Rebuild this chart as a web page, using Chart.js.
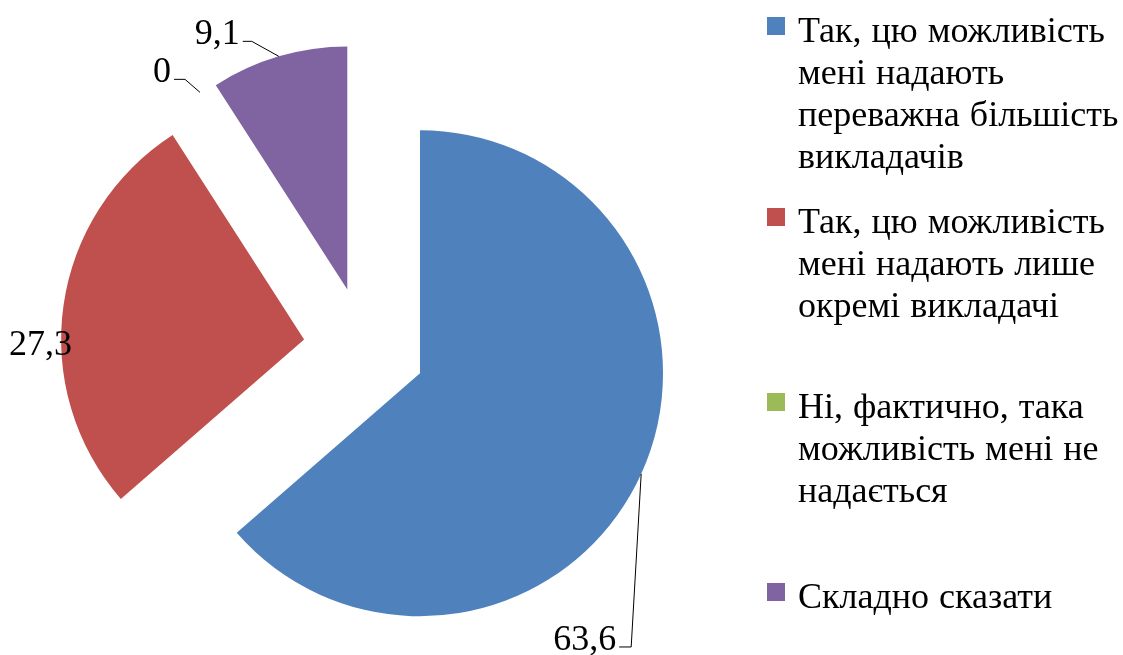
<!DOCTYPE html>
<html>
<head>
<meta charset="utf-8">
<script src="https://cdn.jsdelivr.net/npm/chart.js@4.4.1/dist/chart.umd.min.js"></script>
<style>
    body { margin: 0; background: #fff; }
    #wrap { position: relative; width: 1123px; height: 655px; }
    #pie { position: absolute; left: 0; top: 0; }
    .legend-item {
        position: absolute;
        left: 767px;
        font-family: "Liberation Serif", "Times New Roman", serif;
        font-size: 36px;
        line-height: 42px;
        word-spacing: 1px;
        color: #000;
        white-space: pre-line;
    }
    .legend-item .box {
        position: absolute;
        left: 0;
        top: 8px;
        width: 18px;
        height: 18px;
    }
    .legend-item .txt { margin-left: 31px; }
</style>
</head>
<body>
<div id="wrap">
    <canvas id="pie" width="1123" height="655"></canvas>
</div>
<script>
const categories = [
    'Так, цю можливість\nмені надають\nпереважна більшість\nвикладачів',
    'Так, цю можливість\nмені надають лише\nокремі викладачі',
    'Ні, фактично, така\nможливість мені не\nнадається',
    'Складно сказати'
];
const values = [63.6, 27.3, 0, 9.1];
const colors = ['#4F81BD', '#C0504D', '#9BBB59', '#8064A2'];

// legend rows (top of each entry, px)
const legendTops = [9, 200, 385, 575];

const wrap = document.getElementById('wrap');
categories.forEach((cat, i) => {
    const item = document.createElement('div');
    item.className = 'legend-item';
    item.style.top = legendTops[i] + 'px';
    item.innerHTML = '<div class="box" style="background:' + colors[i] + '"></div>';
    const txt = document.createElement('div');
    txt.className = 'txt';
    txt.textContent = cat;
    item.appendChild(txt);
    wrap.appendChild(item);
});

const EXPLODE = 61;

// push every slice out along its mid angle (like Excel's exploded pie)
const explodeSlices = {
    id: 'explodeSlices',
    afterDatasetsUpdate(chart) {
        chart.getDatasetMeta(0).data.forEach((arc) => {
            const mid = (arc.startAngle + arc.endAngle) / 2;
            arc.x += Math.cos(mid) * EXPLODE;
            arc.y += Math.sin(mid) * EXPLODE;
        });
    }
};

// label placement relative to the slice's outer mid point
const labelLayout = [
    {dx: -10, dy: 173, hx: -12},
    {dx: -23, dy: 40, leader: false},
    {dx: -15, dy: -13, hx: -11},
    {dx: -27, dy: -15, hx: -9}
];

const pieLabels = {
    id: 'pieLabels',
    afterDatasetsDraw(chart) {
        const ctx = chart.ctx;
        const meta = chart.getDatasetMeta(0);
        ctx.save();
        ctx.font = '36px "Liberation Serif", "Times New Roman", serif';
        ctx.fillStyle = '#000';
        ctx.strokeStyle = '#000';
        ctx.lineWidth = 1;
        meta.data.forEach((arc, i) => {
            const mid = (arc.startAngle + arc.endAngle) / 2;
            const ax = arc.x + Math.cos(mid) * arc.outerRadius;
            const ay = arc.y + Math.sin(mid) * arc.outerRadius;
            const lay = labelLayout[i];
            const text = values[i].toString().replace('.', ',');
            if (lay.leader === false) {
                ctx.textAlign = 'center';
                ctx.textBaseline = 'middle';
                ctx.fillText(text, ax + lay.dx, ay + lay.dy);
                return;
            }
            const ex = ax + lay.dx, ey = ay + lay.dy;
            ctx.beginPath();
            ctx.moveTo(ax, ay);
            ctx.lineTo(ex, ey);
            ctx.lineTo(ex + lay.hx, ey);
            ctx.stroke();
            ctx.textAlign = 'right';
            ctx.textBaseline = 'alphabetic';
            ctx.fillText(text, ex + lay.hx - 3, ey + 3);
        });
        ctx.restore();
    }
};

new Chart(document.getElementById('pie'), {
    type: 'pie',
    data: {
        labels: categories,
        datasets: [{
            data: values,
            backgroundColor: colors,
            borderWidth: 0,
            offset: 0,
            hoverOffset: 0
        }]
    },
    options: {
        responsive: false,
        animation: false,
        radius: 243,
        layout: { padding: { left: 0, right: 394, top: 41, bottom: 0 } },
        plugins: {
            legend: { display: false },
            tooltip: { enabled: false }
        }
    },
    plugins: [explodeSlices, pieLabels]
});
</script>
</body>
</html>
